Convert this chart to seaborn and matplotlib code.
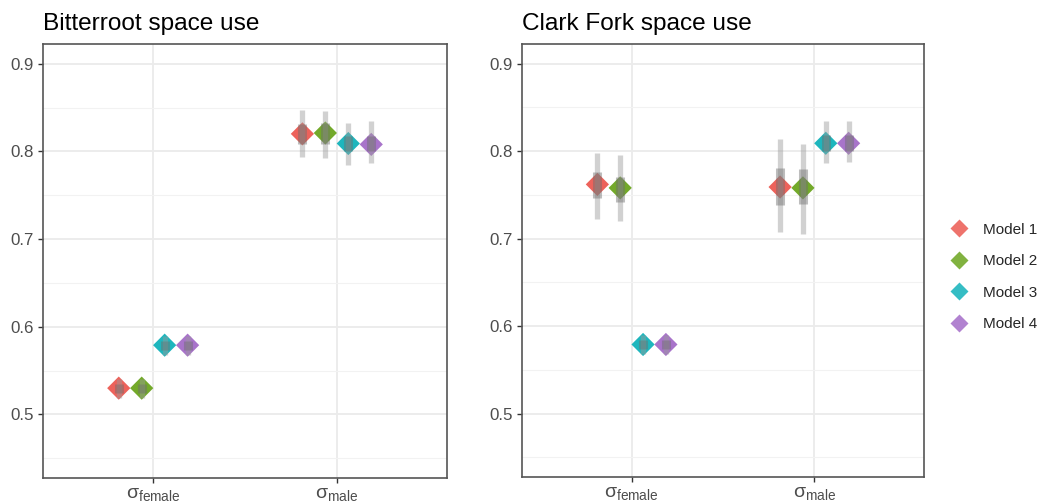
import numpy as np
import pandas as pd
import matplotlib
matplotlib.use("Agg")
import matplotlib.pyplot as plt
from matplotlib.lines import Line2D
import seaborn as sns

# ---------------- data ----------------
params = ["female", "male"]
param_labels = [r"$\mathrm{σ}_{\mathrm{female}}$", r"$\mathrm{σ}_{\mathrm{male}}$"]
models = ["Model 1", "Model 2", "Model 3", "Model 4"]
titles = ["Bitterroot space use", "Clark Fork space use"]

# order: female M1..M4, male M1..M4
mean_b = [0.530, 0.530, 0.579, 0.579, 0.820, 0.821, 0.809, 0.808]
lo_outer_b = [0.519, 0.519, 0.568, 0.568, 0.794, 0.793, 0.784, 0.787]
hi_outer_b = [0.540, 0.540, 0.590, 0.590, 0.847, 0.846, 0.832, 0.835]
lo_inner_b = [0.525, 0.525, 0.574, 0.574, 0.808, 0.809, 0.800, 0.800]
hi_inner_b = [0.535, 0.535, 0.584, 0.584, 0.831, 0.832, 0.818, 0.817]

mean_c = [0.762, 0.758, 0.579, 0.579, 0.759, 0.758, 0.809, 0.809]
lo_outer_c = [0.723, 0.720, 0.568, 0.568, 0.708, 0.705, 0.786, 0.788]
hi_outer_c = [0.798, 0.796, 0.590, 0.590, 0.814, 0.808, 0.834, 0.835]
lo_inner_c = [0.747, 0.742, 0.574, 0.574, 0.739, 0.740, 0.800, 0.800]
hi_inner_c = [0.776, 0.771, 0.584, 0.584, 0.781, 0.780, 0.818, 0.818]

y_ticks = [0.5, 0.6, 0.7, 0.8, 0.9]
y_minor = [0.45, 0.55, 0.65, 0.75, 0.85]

palette = {"Model 1": "#EC5A52", "Model 2": "#6BA51E", "Model 3": "#12B2BA", "Model 4": "#A46CC8"}

# ---------------- style ----------------
sns.set_theme(style="white")
plt.rcParams["font.family"] = ["Liberation Sans", "DejaVu Sans"]
plt.rcParams["mathtext.fontset"] = "custom"
plt.rcParams["mathtext.rm"] = "Liberation Sans"
plt.rcParams["mathtext.it"] = "Liberation Sans:italic"
plt.rcParams["mathtext.sf"] = "Liberation Sans"

W, H = 1045, 504
fig = plt.figure(figsize=(W / 100, H / 100), dpi=100)

def ax_rect(x0, y0, x1, y1):
    return [x0 / W, 1 - y1 / H, (x1 - x0) / W, (y1 - y0) / H]

axes = [fig.add_axes(ax_rect(43, 44, 447, 478)), fig.add_axes(ax_rect(522, 44, 924, 477))]

panels = [
    (mean_b, lo_outer_b, hi_outer_b, lo_inner_b, hi_inner_b),
    (mean_c, lo_outer_c, hi_outer_c, lo_inner_c, hi_inner_c),
]

dodge_width = 0.5
n_m = len(models)
offsets = [(-dodge_width / 2 + dodge_width / n_m * (i + 0.5)) for i in range(n_m)]

for ax, title, (mean, lo_o, hi_o, lo_i, hi_i) in zip(axes, titles, panels):
    rows = []
    k = 0
    for pi, p in enumerate(params):
        for mi, m in enumerate(models):
            rows.append(dict(param=p, model=m, x=pi + offsets[mi], mean=mean[k],
                             lo_o=lo_o[k], hi_o=hi_o[k], lo_i=lo_i[k], hi_i=hi_i[k]))
            k += 1
    df = pd.DataFrame(rows)

    sns.scatterplot(data=df, x="x", y="mean", hue="model", palette=palette, marker="D",
                    s=140, linewidth=0, alpha=0.95, ax=ax, legend=False, zorder=3)
    ax.vlines(df["x"], df["lo_o"], df["hi_o"], color="#9a9a9a", alpha=0.45, lw=3.8, zorder=4)
    ax.vlines(df["x"], df["lo_i"], df["hi_i"], color="#6e6e6e", alpha=0.45, lw=6.5, zorder=4)

    ax.set_xlim(-0.6, 1.6)
    ax.set_ylim(0.4275, 0.9225)
    ax.set_xticks([0, 1])
    ax.set_xticklabels(param_labels)
    ax.set_yticks(y_ticks)
    ax.set_yticklabels([f"{v:.1f}" for v in y_ticks])
    ax.set_yticks(y_minor, minor=True)
    ax.set_xlabel("")
    ax.set_ylabel("")
    ax.grid(True, which="major", color="#EBEBEB", lw=1.3, zorder=0)
    ax.grid(True, which="minor", axis="y", color="#F2F2F2", lw=0.8, zorder=0)
    ax.set_axisbelow(True)
    for s in ax.spines.values():
        s.set_color("#555555")
        s.set_linewidth(1.2)
    ax.tick_params(axis="both", which="major", direction="out", length=3.5, width=1.0,
                   color="#333333", labelcolor="#4D4D4D", labelsize=12.2, pad=3,
                   left=True, bottom=True)
    ax.tick_params(axis="x", labelsize=14, pad=2)
    ax.tick_params(which="minor", length=0)
    ax.set_title(title, loc="left", fontsize=17.6, color="black", pad=10)

handles = [Line2D([0], [0], marker="D", color="none", markerfacecolor=palette[m],
                  markeredgecolor="none", markersize=9.5, alpha=0.85, label=m) for m in models]
fig.legend(handles=handles, loc="center left", bbox_to_anchor=(942 / W, 1 - 277 / H),
           frameon=False, fontsize=11.0, labelspacing=1.15, handletextpad=0.9,
           handlelength=1.4, borderaxespad=0)

fig.savefig("out.png", dpi=100)
